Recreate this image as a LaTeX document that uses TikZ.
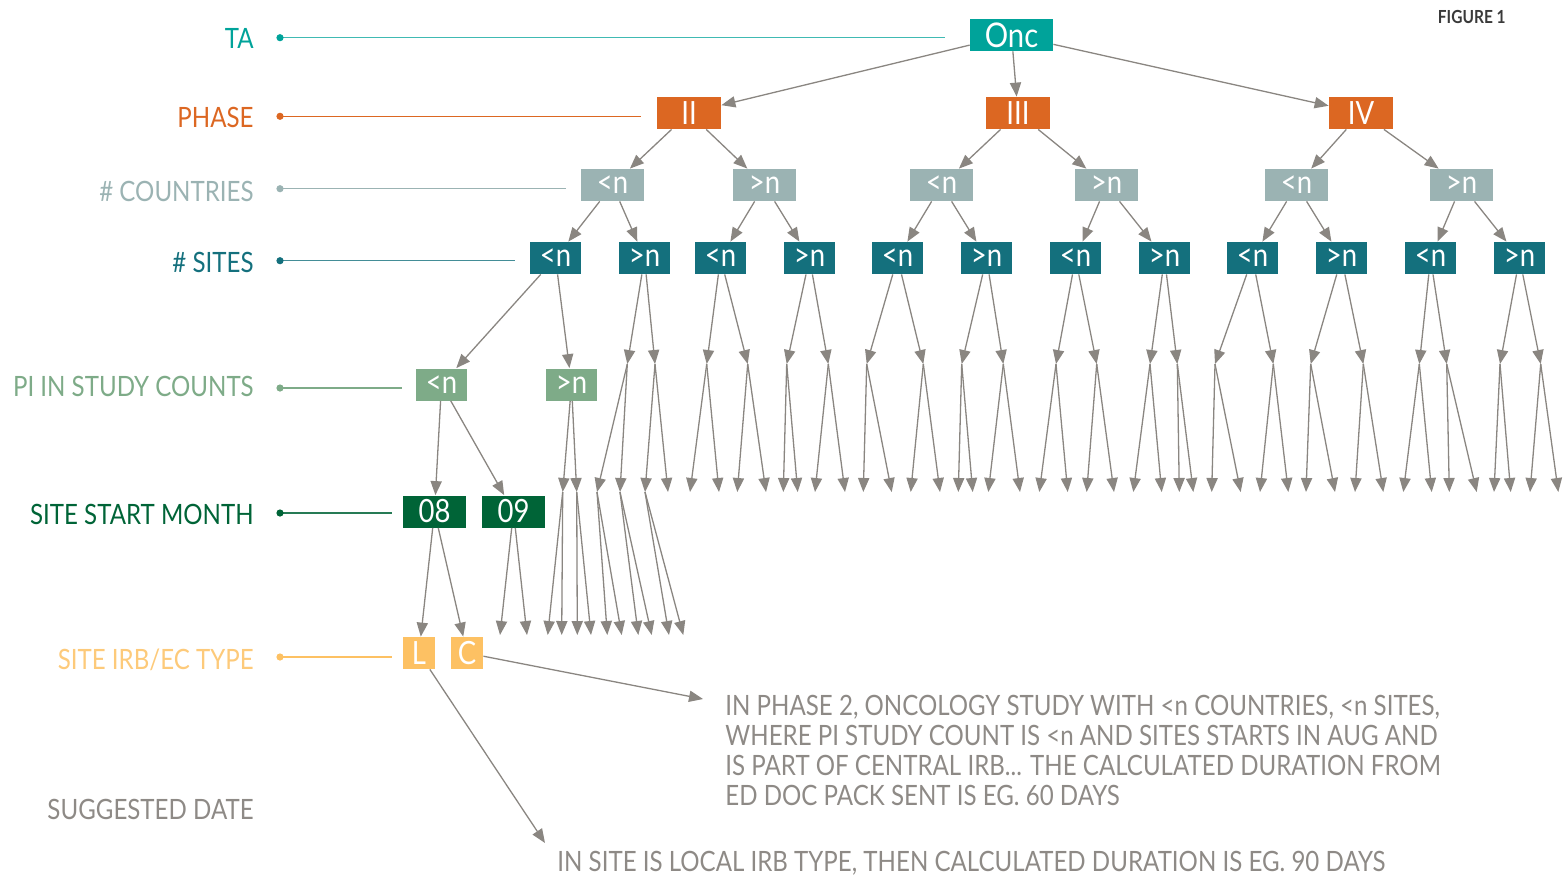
\documentclass[tikz,border=0pt]{standalone}
\usepackage{fontspec}
\setmainfont{Lato}[FakeStretch=0.86]
\usetikzlibrary{arrows.meta}

\definecolor{ta}{HTML}{00A39A}
\definecolor{phase}{HTML}{DC6722}
\definecolor{ctry}{HTML}{9BB3B3}
\definecolor{sites}{HTML}{14707D}
\definecolor{pi}{HTML}{7EAB88}
\definecolor{month}{HTML}{006437}
\definecolor{irb}{HTML}{FDC163}
\definecolor{arrgrey}{HTML}{8A8681}
\definecolor{notegrey}{HTML}{8E8A86}
\definecolor{figdark}{HTML}{3A3A3A}

\tikzset{
  arr/.style={draw=arrgrey, line width=0.65pt, -{Triangle[length=7pt,width=5.6pt]}},
  tag/.style={anchor=base east, inner sep=0pt, font=\fontsize{14}{14}\selectfont},
  guide/.style={line width=0.6pt},
  bx/.style={inner sep=0pt, minimum height=16pt, text=white, font=\fontsize{16}{16}\selectfont},
  note/.style={inner sep=0pt, text=notegrey, align=left, font=\fontsize{14}{15}\selectfont},
}

\begin{document}
\begin{tikzpicture}[x=0.5pt,y=-0.5pt]
\useasboundingbox (0,0) rectangle (1566,874);

% level labels and guide lines
\node[tag, text=ta] (lta) at (254,48) {TA};
\node[tag, text=phase] (lphase) at (254,127) {PHASE};
\node[tag, text=ctry] (lctry) at (254,201.5) {\# COUNTRIES};
\node[tag, text=sites] (lsites) at (254,272) {\# SITES};
\node[tag, text=pi] (lpi) at (254,396) {PI IN STUDY COUNTS};
\node[tag, text=month] (lmonth) at (254,524) {SITE START MONTH};
\node[tag, text=irb!85!white] (lirb) at (254,669) {SITE IRB/EC TYPE};
\node[tag, text=notegrey] (lsugg) at (254,819) {SUGGESTED DATE};

\draw[ta!75!white, guide] (280,37.7) -- (945,37.7);
\fill[ta] (280,37.7) circle[radius=1.8pt];
\draw[phase, guide] (280,116.3) -- (641,116.3);
\fill[phase] (280,116.3) circle[radius=1.8pt];
\draw[ctry, guide] (280,188.7) -- (566,188.7);
\fill[ctry] (280,188.7) circle[radius=1.8pt];
\draw[sites!80!white, guide] (280,260.7) -- (515,260.7);
\fill[sites] (280,260.7) circle[radius=1.8pt];
\draw[pi, guide] (280,388) -- (402,388);
\fill[pi] (280,388) circle[radius=1.8pt];
\draw[month!85!white, guide] (280,513) -- (392,513);
\fill[month] (280,513) circle[radius=1.8pt];
\draw[irb, guide] (280,657) -- (392,657);
\fill[irb] (280,657) circle[radius=1.8pt];

\node[anchor=base east, inner sep=0pt, text=figdark, font=\bfseries\fontsize{9}{9}\selectfont] (fig) at (1506,23.3) {FIGURE 1};

% tree boxes
\node[bx, fill=ta, minimum width=41.5pt, font=\fontsize{17}{17}\selectfont] (onc) at (1011.5,35) {Onc};
\node[bx, fill=phase, minimum width=32pt] (ph2) at (689,113) {II};
\node[bx, fill=phase, minimum width=32pt] (ph3) at (1018,113) {III};
\node[bx, fill=phase, minimum width=32pt] (ph4) at (1361,113) {IV};

\foreach \x/\t [count=\i] in {612.5/<n, 764.5/>n, 941.5/<n, 1106.5/>n, 1296.5/<n, 1461.5/>n}
  \node[bx, fill=ctry, minimum width=31.5pt] (c\i) at (\x,185) {\t};

\foreach \x/\t [count=\i] in {555.5/<n, 644.5/>n, 720.5/<n, 809.5/>n, 897.5/<n, 986.5/>n,
    1075.5/<n, 1164.5/>n, 1252.5/<n, 1341.5/>n, 1430.5/<n, 1519.5/>n}
  \node[bx, fill=sites, minimum width=25.5pt] (s\i) at (\x,258) {\t};

\node[bx, fill=pi, minimum width=25.5pt] (p1) at (441.5,384.5) {<n};
\node[bx, fill=pi, minimum width=25.5pt] (p2) at (571.5,384.5) {>n};
\node[bx, fill=month, minimum width=31.5pt] (m8) at (434.5,511.5) {08};
\node[bx, fill=month, minimum width=31.5pt] (m9) at (513.5,511.5) {09};
\node[bx, fill=irb, minimum width=16pt] (irbl) at (419,653) {L};
\node[bx, fill=irb, minimum width=16pt] (irbc) at (467,653) {C};

% tree arrows
\foreach \a/\b in {onc/ph2, onc/ph3, onc/ph4, ph2/c1, ph2/c2, ph3/c3, ph3/c4, ph4/c5, ph4/c6,
    c1/s1, c1/s2, c2/s3, c2/s4, c3/s5, c3/s6, c4/s7, c4/s8, c5/s9, c5/s10, c6/s11, c6/s12,
    s1/p1, s1/p2, p1/m8, p1/m9, m8/irbl, m8/irbc}
  \draw[arr] (\a) -- (\b);

% open branches below the sites
\foreach \src/\tip/\l/\r [count=\i] in {s2/627.3/597/620, s2/655/645/668,
    s3/706.7/690/719, s3/747.7/737.3/766, s4/786.7/783.3/797.7, s4/828.3/815/845,
    s5/866.7/863.3/891.7, s5/923.3/910.7/940, s6/961.7/958.3/972.7, s6/1003.3/988.3/1020,
    s7/1056/1039.3/1067.7, s7/1096.7/1086.7/1114, s8/1150/1133.3/1161.7, s8/1177.3/1179.3/1193.3,
    s9/1215/1211.7/1240.7, s9/1273.3/1260/1288.3, s10/1310.7/1306/1335, s10/1363.3/1355/1383.3,
    s11/1419.3/1403.3/1431.7, s11/1446.7/1449.3/1476.7, s12/1500/1494/1510.7, s12/1540.7/1530/1558.3} {
  \coordinate (k\i) at (\tip,364);
  \coordinate (k\i l) at (\l,492);
  \coordinate (k\i r) at (\r,492);
  \draw[arr] (\src) -- (k\i);
  \draw[arr] (k\i) -- (k\i l);
  \draw[arr] (k\i) -- (k\i r);
}

\coordinate (q1) at (562.7,492);
\coordinate (q2) at (576.7,492);
\draw[arr] (p2) -- (q1);
\draw[arr] (p2) -- (q2);

\foreach \a/\l/\r in {q1/547.7/561.7, q2/577.3/591, k1l/607.3/621.7, k1r/638.3/651.7, k2l/669/683.3} {
  \coordinate (\a-l) at (\l,635);
  \coordinate (\a-r) at (\r,635);
  \draw[arr] (\a) -- (\a-l);
  \draw[arr] (\a) -- (\a-r);
}

\coordinate (n9l) at (500,635);
\coordinate (n9r) at (527,635);
\draw[arr] (m9) -- (n9l);
\draw[arr] (m9) -- (n9r);

% notes
\coordinate (noteC) at (703,699);
\coordinate (noteL) at (545,843);
\draw[arr] (irbc) -- (noteC);
\draw[arr] (irbl) -- (noteL);

\node[note, anchor=north west] (txtc) at (725,695) {IN PHASE 2, ONCOLOGY STUDY WITH <n COUNTRIES, <n SITES,\\
  WHERE PI STUDY COUNT IS <n AND SITES STARTS IN AUG AND\\
  IS PART OF CENTRAL IRB... THE CALCULATED DURATION FROM\\
  ED DOC PACK SENT IS EG. 60 DAYS};
\node[note, anchor=base west] (txtl) at (557,871) {IN SITE IS LOCAL IRB TYPE, THEN CALCULATED DURATION IS EG. 90 DAYS};
\end{tikzpicture}
\end{document}
